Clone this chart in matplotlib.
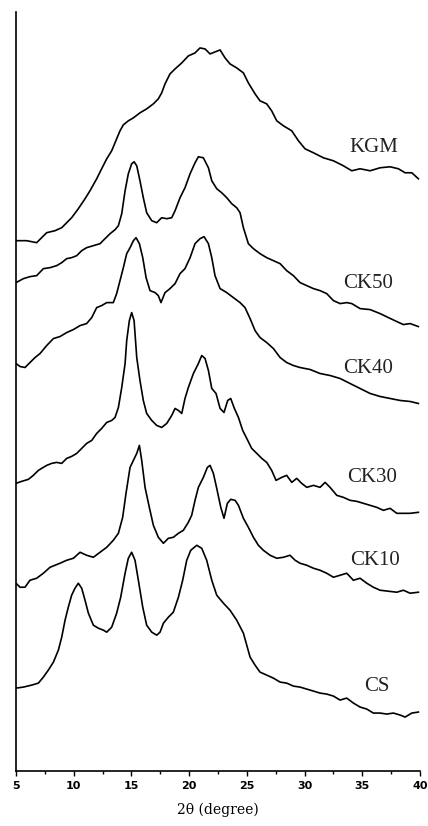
import matplotlib
matplotlib.use("Agg")
import matplotlib.pyplot as plt
from matplotlib.ticker import MultipleLocator

# XRD patterns (2theta in degrees, intensity in arbitrary units, stacked)
kgm_x = [5.0, 5.92, 6.79, 7.22, 7.66, 8.38, 8.96, 9.39, 9.82, 10.40, 10.98, 11.41, 11.99,
         12.42, 12.86, 13.29, 13.72, 14.01, 14.30, 14.73, 15.17, 15.74, 16.32, 16.90, 17.33,
         17.62, 17.91, 18.34, 18.78, 19.36, 19.93, 20.51, 20.94, 21.38, 21.81, 22.24, 22.68,
         23.11, 23.54, 24.12, 24.70, 25.13, 25.71, 26.14, 26.72, 27.15, 27.59, 28.17, 28.89,
         29.47, 30.04, 30.77, 31.63, 32.50, 33.36, 34.09, 34.81, 35.68, 36.54, 37.41, 38.13,
         38.71, 39.29, 39.86]
kgm_y = [531, 531, 529, 534, 539, 541, 544, 549, 554, 563, 573, 581, 593,
         603, 613, 621, 633, 641, 647, 651, 654, 659, 663, 668, 673,
         679, 688, 698, 703, 709, 716, 719, 724, 723, 718, 720, 722,
         714, 708, 704, 699, 689, 678, 671, 668, 661, 651, 646, 641,
         631, 623, 619, 614, 611, 606, 601, 603, 601, 604, 605, 603,
         599, 599, 593]

ck50_x = [5.0, 5.64, 6.21, 6.79, 7.37, 7.95, 8.52, 8.96, 9.39, 9.82, 10.26, 10.69, 11.12,
          11.70, 12.28, 12.71, 13.15, 13.58, 13.87, 14.16, 14.45, 14.73, 15.02, 15.23, 15.46,
          15.74, 16.03, 16.32, 16.76, 17.19, 17.62, 18.06, 18.49, 18.78, 19.21, 19.64, 20.08,
          20.51, 20.80, 21.23, 21.67, 21.96, 22.39, 22.82, 23.26, 23.69, 24.12, 24.41, 24.70,
          25.13, 25.57, 26.14, 26.72, 27.30, 27.88, 28.45, 29.03, 29.61, 30.19, 30.77, 31.34,
          31.92, 32.50, 33.08, 33.65, 34.09, 34.81, 35.68, 36.54, 37.26, 37.99, 38.56, 39.14,
          39.86]
ck50_y = [489, 493, 495, 496, 503, 504, 506, 509, 513, 514, 516, 521, 524,
          526, 528, 533, 538, 542, 546, 558, 581, 598, 608, 610, 606,
          591, 574, 559, 551, 549, 554, 553, 554, 561, 574, 584, 598,
          609, 615, 614, 604, 591, 583, 579, 574, 568, 564, 559, 544,
          528, 523, 518, 514, 511, 508, 501, 496, 489, 486, 483, 481,
          478, 471, 468, 469, 468, 463, 462, 458, 454, 450, 447, 448,
          445]

ck40_x = [5.0, 5.35, 5.78, 6.21, 6.65, 7.08, 7.66, 8.24, 8.81, 9.39, 9.97, 10.55, 11.12,
          11.56, 11.99, 12.42, 12.86, 13.43, 13.72, 14.01, 14.30, 14.59, 14.88, 15.17, 15.40,
          15.69, 15.98, 16.27, 16.61, 17.05, 17.33, 17.56, 17.91, 18.34, 18.78, 19.21, 19.64,
          20.08, 20.51, 20.94, 21.29, 21.67, 21.96, 22.24, 22.68, 23.26, 23.83, 24.41, 24.84,
          25.28, 25.71, 26.14, 26.72, 27.30, 27.88, 28.45, 29.03, 29.61, 30.48, 31.34, 32.21,
          33.08, 33.94, 34.81, 35.68, 36.54, 37.41, 38.28, 39.14, 39.86]
ck40_y = [408, 405, 404, 409, 414, 418, 426, 433, 435, 439, 442, 446, 448,
          454, 464, 466, 469, 469, 478, 491, 504, 518, 524, 531, 534,
          528, 514, 494, 481, 479, 476, 469, 479, 483, 488, 498, 503,
          514, 528, 533, 535, 528, 514, 496, 483, 479, 474, 469, 464,
          453, 441, 434, 429, 423, 414, 409, 406, 404, 402, 398, 396,
          393, 388, 383, 378, 375, 373, 371, 370, 368]

ck30_x = [5.0, 5.49, 6.07, 6.50, 6.94, 7.22, 7.66, 8.09, 8.52, 8.96, 9.39, 9.82, 10.26,
          10.69, 11.12, 11.56, 11.99, 12.42, 12.86, 13.29, 13.58, 13.87, 14.16, 14.45, 14.59,
          14.82, 15.02, 15.23, 15.46, 15.74, 16.03, 16.32, 16.76, 17.19, 17.62, 18.06, 18.49,
          18.78, 19.07, 19.36, 19.64, 19.93, 20.37, 20.80, 21.09, 21.38, 21.67, 21.96, 22.33,
          22.68, 23.02, 23.34, 23.60, 23.92, 24.27, 24.64, 24.99, 25.42, 25.86, 26.29, 26.72,
          27.15, 27.53, 28.02, 28.45, 28.89, 29.32, 29.75, 30.19, 30.77, 31.34, 31.78, 32.21,
          32.79, 33.36, 33.94, 34.52, 35.10, 35.68, 36.25, 36.83, 37.41, 37.99, 38.56, 39.14,
          39.86]
ck30_y = [288, 290, 292, 296, 301, 303, 306, 308, 309, 308, 313, 315, 318,
          323, 328, 331, 338, 343, 349, 351, 354, 364, 384, 408, 431,
          451, 459, 451, 414, 391, 371, 358, 351, 346, 344, 348, 356,
          363, 361, 358, 373, 384, 398, 408, 416, 413, 401, 383, 378,
          363, 359, 371, 373, 363, 354, 341, 333, 323, 318, 313, 309,
          301, 291, 294, 296, 289, 293, 288, 284, 286, 284, 289, 284,
          276, 274, 271, 270, 268, 266, 264, 261, 263, 258, 258, 258,
          259]

ck10_x = [5.0, 5.35, 5.78, 6.21, 6.79, 7.37, 7.95, 8.38, 8.81, 9.39, 9.97, 10.55, 11.12,
          11.70, 12.28, 12.86, 13.43, 13.87, 14.24, 14.53, 14.88, 15.17, 15.46, 15.69, 15.89,
          16.18, 16.55, 16.90, 17.33, 17.77, 18.20, 18.63, 19.07, 19.50, 19.93, 20.22, 20.51,
          20.80, 21.23, 21.58, 21.81, 22.10, 22.39, 22.74, 23.02, 23.31, 23.60, 23.98, 24.27,
          24.70, 25.13, 25.57, 26.00, 26.43, 27.01, 27.59, 28.17, 28.74, 29.18, 29.61, 30.19,
          30.77, 31.34, 31.92, 32.50, 33.08, 33.65, 34.23, 34.81, 35.39, 35.96, 36.54, 37.26,
          37.99, 38.56, 39.14, 39.86]
ck10_y = [188, 184, 184, 191, 193, 198, 204, 206, 208, 211, 213, 219, 216,
          214, 219, 224, 231, 238, 254, 278, 304, 311, 318, 326, 311,
          284, 264, 246, 234, 228, 233, 234, 238, 241, 249, 256, 271,
          284, 294, 304, 306, 298, 283, 264, 253, 268, 272, 271, 266,
          253, 244, 234, 226, 221, 216, 213, 214, 216, 211, 208, 206,
          203, 201, 198, 194, 196, 198, 191, 193, 188, 184, 181, 180,
          179, 181, 178, 179]

cs_x = [5.0, 5.64, 6.36, 6.94, 7.37, 7.80, 8.24, 8.67, 8.96, 9.25, 9.53, 9.82, 10.11,
        10.40, 10.69, 10.98, 11.27, 11.70, 12.13, 12.57, 12.86, 13.29, 13.72, 14.07, 14.45,
        14.73, 15.02, 15.31, 15.60, 15.98, 16.32, 16.76, 17.19, 17.48, 17.77, 18.20, 18.63,
        19.07, 19.44, 19.79, 20.14, 20.66, 21.09, 21.52, 21.96, 22.39, 22.97, 23.54, 24.12,
        24.70, 25.28, 25.71, 26.14, 26.72, 27.30, 27.88, 28.45, 29.03, 29.61, 30.19, 30.77,
        31.34, 31.92, 32.50, 33.08, 33.65, 34.23, 34.81, 35.39, 35.96, 36.54, 37.12, 37.70,
        38.28, 38.71, 39.29, 39.86]
cs_y = [83, 84, 86, 88, 94, 101, 109, 121, 134, 151, 164, 176, 183,
        188, 183, 171, 158, 146, 143, 141, 139, 144, 158, 174, 198,
        213, 219, 211, 191, 164, 146, 139, 136, 139, 148, 154, 159,
        174, 191, 211, 221, 226, 223, 211, 191, 176, 168, 161, 151,
        138, 114, 106, 99, 96, 93, 89, 88, 85, 84, 82, 80,
        78, 77, 75, 71, 73, 68, 64, 62, 58, 58, 57, 58,
        56, 54, 58, 59]

labels = ['KGM', 'CK50', 'CK40', 'CK30', 'CK10', 'CS']
label_x = [36.0, 35.5, 35.5, 35.85, 36.1, 36.3]
label_y = [624, 488, 403, 294, 211, 85]

series = [(kgm_x, kgm_y), (ck50_x, ck50_y), (ck40_x, ck40_y),
          (ck30_x, ck30_y), (ck10_x, ck10_y), (cs_x, cs_y)]

fig = plt.figure(figsize=(4.28, 8.26), dpi=100)
ax = fig.add_axes([0.0374, 0.0666, 0.9439, 0.9189])

for (x, y) in series:
    ax.plot(x, y, color='black', linewidth=1.2)

for name, lx, ly in zip(labels, label_x, label_y):
    ax.text(lx, ly, name, family='Liberation Serif', fontsize=15,
            ha='center', va='center', color='#222222')

ax.set_xlim(5, 40)
ax.set_ylim(0, 760)
ax.xaxis.set_major_locator(MultipleLocator(5))
ax.xaxis.set_minor_locator(MultipleLocator(2.5))
ax.tick_params(axis='x', which='major', direction='out', length=3.5, width=1.0,
               labelsize=8, pad=4)
ax.tick_params(axis='x', which='minor', direction='out', length=2.5, width=1.0)
ax.set_yticks([])
for lab in ax.get_xticklabels():
    lab.set_fontweight('bold')

ax.spines['top'].set_visible(False)
ax.spines['right'].set_visible(False)
ax.spines['left'].set_linewidth(1.2)
ax.spines['bottom'].set_linewidth(1.2)

ax.set_xlabel('2θ (degree)', family='DejaVu Serif', fontsize=10, labelpad=8)

fig.savefig('out.png', dpi=100)
